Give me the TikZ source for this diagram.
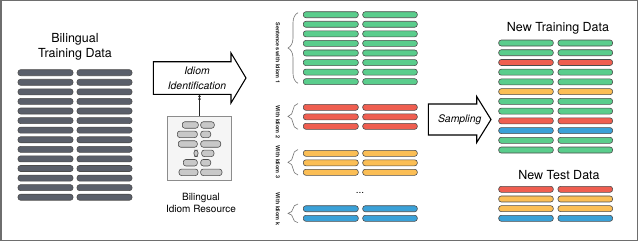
\documentclass[tikz,border=0pt]{standalone}
\usepackage{fontspec}
\setmainfont{TeX Gyre Heros}
\usetikzlibrary{decorations.pathreplacing,arrows.meta}
\definecolor{cgray}{HTML}{5A5F6A}
\definecolor{cgreen}{HTML}{5ACD8C}
\definecolor{cred}{HTML}{EF5E50}
\definecolor{corange}{HTML}{FBBE55}
\definecolor{cblue}{HTML}{3AA1D8}
\definecolor{cpill}{HTML}{C8C8C8}
\definecolor{cframe}{HTML}{6E6E6E}
\begin{document}
\begin{tikzpicture}[x=1pt,y=-1pt,
  bar/.style={rectangle, rounded corners=2.6pt, minimum height=6pt, inner sep=0pt, draw=black!70, line width=0.6pt},
  pill/.style={bar, fill=cpill, minimum height=6.5pt},
  bigtxt/.style={font=\fontsize{12.5}{15}\selectfont, align=center, inner sep=0pt},
  smalltxt/.style={font=\fontsize{10}{12.7}\selectfont, align=center, inner sep=0pt},
  ittxt/.style={font=\fontsize{10.4}{14.5}\selectfont\itshape, align=center, inner sep=0pt},
  tinytxt/.style={font=\fontsize{5.5}{6}\selectfont\bfseries, rotate=-90, inner sep=0pt, text=black!90},
  bigarrow/.style={fill=white, draw=black, line width=1.1pt, line join=miter},
  brc/.style={decorate, decoration={brace, amplitude=10pt}, draw=black!55, line width=0.6pt},
  conn/.style={draw=black!85, line width=0.8pt, -{Latex[length=2.6pt,width=3pt]Latex[length=2.6pt,width=3pt]}},
  frame/.style={draw=cframe, line width=1.1pt},
  resbox/.style={rectangle, draw=black!45, fill=black!4, line width=0.8pt, minimum width=63.4pt, minimum height=64pt, inner sep=0pt}
]
\useasboundingbox (0,0) rectangle (640,242);
\draw[frame] (1,0.8) rectangle (637.5,240.7);

% left: bilingual training data
\node[bigtxt] (btd) at (75,46.5) {Bilingual\\Training Data};
\foreach \i in {0,...,13} {
  \node[bar, fill=cgray, minimum width=55pt] (la\i) at (45.5, 72.7+9.58*\i) {};
  \node[bar, fill=cgray, minimum width=55pt] (lb\i) at (104.5, 72.7+9.58*\i) {};
}

% idiom identification arrow
\draw[bigarrow] (153.3,61.7) -- (231,61.7) -- (231,53) -- (246,78) -- (231,103) -- (231,94.3) -- (153.3,94.3) -- cycle;
\node[ittxt] (idt) at (197,78.3) {Idiom\\Identification};
\coordinate (idb) at (199.5,94.3);

% bilingual idiom resource
\node[resbox] (res) at (199.5,148.7) {};
\node[pill, minimum width=16pt] (p1a) at (190.3,125) {};
\node[pill, minimum width=13.6pt] (p1b) at (207.5,125) {};
\node[pill, minimum width=20pt] (p2a) at (187.3,134.3) {};
\node[pill, minimum width=10pt] (p2b) at (205.7,134.3) {};
\node[pill, minimum width=19pt] (p3a) at (187.8,144) {};
\node[pill, minimum width=20pt] (p3b) at (210.7,144) {};
\node[pill, minimum width=4pt] (p4a) at (196,153.3) {};
\node[pill, minimum width=12.3pt] (p4b) at (207.8,153.3) {};
\node[pill, minimum width=14pt] (p5a) at (190.3,162.7) {};
\node[pill, minimum width=10pt] (p5b) at (205.7,162.7) {};
\node[pill, minimum width=19pt] (p6a) at (188.5,172.3) {};
\node[pill, minimum width=21.3pt] (p6b) at (211.3,172.3) {};
\draw[conn] (res.north -| idb) -- (idb);
\node[smalltxt] (bir) at (201,203) {Bilingual\\Idiom Resource};

% middle groups
\foreach \i in {0,...,7} {
  \node[bar, fill=cgreen, minimum width=55pt] (ga\i) at (330.8, 14.7+9.57*\i) {};
  \node[bar, fill=cgreen, minimum width=54.6pt] (gb\i) at (390, 14.7+9.57*\i) {};
}
\foreach \i in {0,...,2} {
  \node[bar, fill=cred, minimum width=55pt] (ra\i) at (330.8, 107.3+9.5*\i) {};
  \node[bar, fill=cred, minimum width=54.6pt] (rb\i) at (390, 107.3+9.5*\i) {};
  \node[bar, fill=corange, minimum width=55pt] (oa\i) at (330.8, 153.3+9.5*\i) {};
  \node[bar, fill=corange, minimum width=54.6pt] (ob\i) at (390, 153.3+9.5*\i) {};
}
\foreach \i in {0,...,1} {
  \node[bar, fill=cblue, minimum width=55pt] (ba\i) at (330.8, 208.7+9.6*\i) {};
  \node[bar, fill=cblue, minimum width=54.6pt] (bb\i) at (390, 208.7+9.6*\i) {};
}
\node[font=\fontsize{10}{12}\selectfont, anchor=base, inner sep=0pt] (dots) at (360,193.5) {...};

\draw[brc] (298,83.3) -- (298,12.7);
\draw[brc] (298,129.3) -- (298,103.5);
\draw[brc] (298,175) -- (298,149.5);
\draw[brc] (298,222.7) -- (298,204);
\node[tinytxt] (t1) at (278,53) {Sentences with Idiom 1};
\node[tinytxt] (t2) at (278,122) {With Idiom 2};
\node[tinytxt] (t3) at (278,162) {With Idiom 3};
\node[tinytxt] (t4) at (278,209) {With Idiom k};

% sampling arrow
\draw[bigarrow] (428.3,104) -- (476.7,104) -- (476.7,96.5) -- (491,119.5) -- (476.7,142.5) -- (476.7,135) -- (428.3,135) -- cycle;
\node[ittxt] (samp) at (459.7,120) {Sampling};

% new training data
\node[bigtxt] (ntd) at (558,28.5) {New Training Data};
\foreach \c [count=\i from 0] in {cgreen,cgreen,cred,cgreen,cgreen,corange,cgreen,cgreen,cred,cblue,cgreen,cgreen} {
  \node[bar, fill=\c, minimum width=54.6pt] (na\i) at (526, 43+9.73*\i) {};
  \node[bar, fill=\c, minimum width=54.6pt] (nb\i) at (585.3, 43+9.73*\i) {};
}
% new test data
\node[bigtxt] (nsd) at (559,175) {New Test Data};
\foreach \c [count=\i from 0] in {cred,corange,corange,cblue} {
  \node[bar, fill=\c, minimum width=54.6pt] (ta\i) at (526, 189.3+9.67*\i) {};
  \node[bar, fill=\c, minimum width=54.6pt] (tb\i) at (585.3, 189.3+9.67*\i) {};
}
\end{tikzpicture}
\end{document}
